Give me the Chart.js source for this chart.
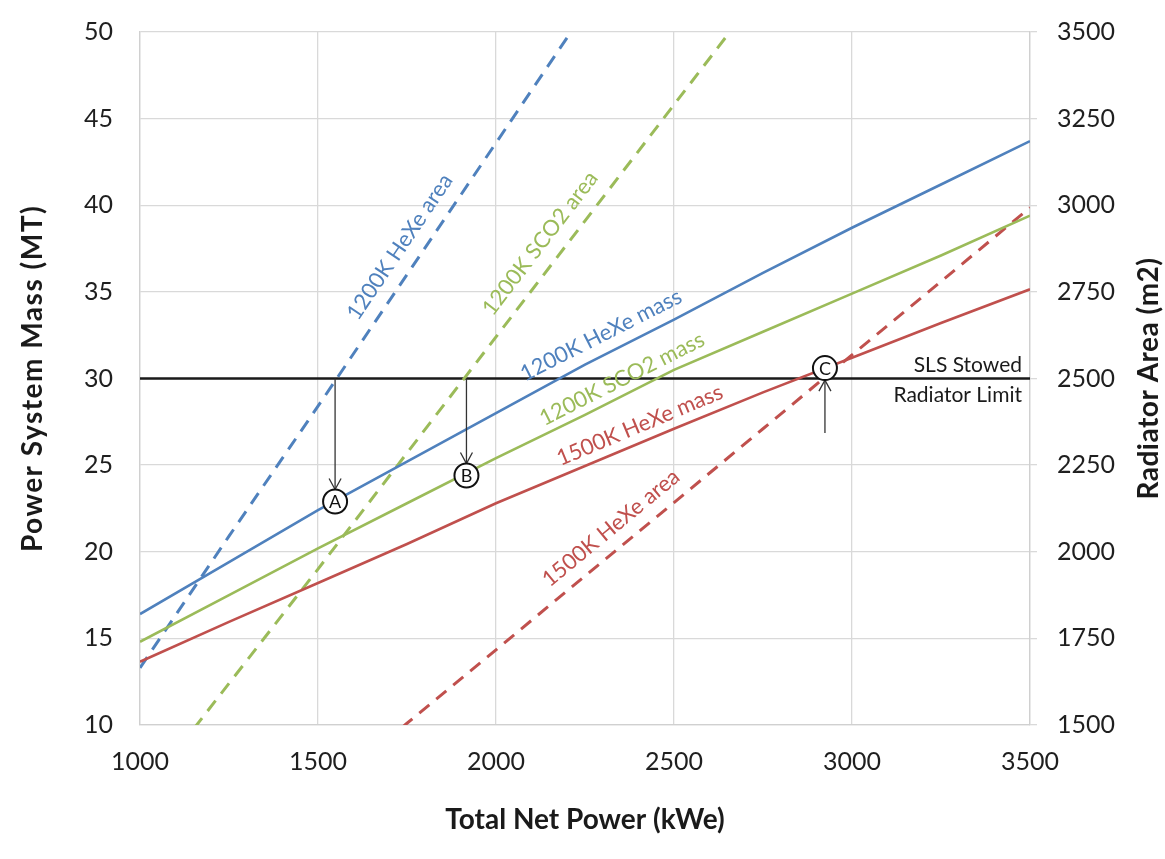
<!DOCTYPE html>
<html><head><meta charset="utf-8">
<script src="https://cdn.jsdelivr.net/npm/chart.js@4.4.0/dist/chart.umd.min.js"></script>
<style>html,body{margin:0;padding:0;background:#fff}#wrap{width:1165px;height:859px}</style>
</head><body><div id="wrap"><canvas id="c" width="1165" height="859"></canvas></div>
<script>
// ---- data ----
const powerKWe      = [1000, 1250, 1500, 1750, 2000, 2250, 2500, 2750, 3000, 3250, 3500];
const heXe1200Mass  = [16.4, 19.4, 22.4, 25.2, 28.0, 30.8, 33.4, 36.1, 38.7, 41.2, 43.7];
const sco21200Mass  = [14.8, 17.5, 20.2, 22.8, 25.4, 27.9, 30.5, 32.7, 34.9, 37.1, 39.4];
const heXe1500Mass  = [13.65, 15.95, 18.2, 20.45, 22.8, 24.95, 27.1, 29.2, 31.2, 33.2, 35.15];
const heXe1200Area  = [1665, 2045, 2420, 2800, 3180, 3560, null, null, null, null, null];
const sco21200Area  = [1290, 1620, 1950, 2285, 2620, 2955, 3290, 3625, null, null, null];
const heXe1500Area  = [null, null, 1290, 1505, 1717, 1930, 2142, 2355, 2568, 2780, 2993];
const limitPower    = [1000, 3500];
const limitMass     = [30, 30];
const massTicks     = [10, 15, 20, 25, 30, 35, 40, 45, 50];
const areaTicks     = [1500, 1750, 2000, 2250, 2500, 2750, 3000, 3250, 3500];
const powerTicks    = [1000, 1500, 2000, 2500, 3000, 3500];
const markerNames   = ['A', 'B', 'C'];
const markerPower   = [1548, 1917, 2924];
const markerMass    = [22.9, 24.4, 30.6];
const arrowFromMass = [30, 30, 26.85];

const BLUE = '#4F81BD', GREEN = '#9BBB59', RED = '#C0504D';
const FONT = 'Lato, "Open Sans", sans-serif';

function pts(xs, ys) { return xs.map((x, i) => ({x: x, y: ys[i]})); }

const datasets = [
  {label:'1200K HeXe mass', data: pts(powerKWe, heXe1200Mass), yAxisID:'y', borderColor: BLUE, borderWidth: 2.6},
  {label:'1200K SCO2 mass', data: pts(powerKWe, sco21200Mass), yAxisID:'y', borderColor: GREEN, borderWidth: 2.6},
  {label:'1500K HeXe mass', data: pts(powerKWe, heXe1500Mass), yAxisID:'y', borderColor: RED, borderWidth: 2.6},
  {label:'1200K HeXe area', data: pts(powerKWe, heXe1200Area), yAxisID:'y2', borderColor: BLUE, borderWidth: 3, borderDash:[13,9]},
  {label:'1200K SCO2 area', data: pts(powerKWe, sco21200Area), yAxisID:'y2', borderColor: GREEN, borderWidth: 3, borderDash:[13,9]},
  {label:'1500K HeXe area', data: pts(powerKWe, heXe1500Area), yAxisID:'y2', borderColor: RED, borderWidth: 3, borderDash:[13,9]},
  {label:'SLS limit', data: pts(limitPower, limitMass), yAxisID:'y', borderColor: '#1a1a1a', borderWidth: 2.6}
];

// text labels placed along lines: [text, dataset index, kWe, MT, color]
const lineLabels = [
  ['1200K HeXe area', 3, 1730, 37.6, BLUE],
  ['1200K SCO2 area', 4, 2124, 37.8, GREEN],
  ['1200K HeXe mass', 0, 2295, 32.5, BLUE],
  ['1200K SCO2 mass', 1, 2354, 29.97, GREEN],
  ['1500K HeXe mass', 2, 2404, 27.3, RED],
  ['1500K HeXe area', 5, 2323, 21.37, RED]
];

function segAngle(chart, dsIndex, xv) {
  const meta = chart.getDatasetMeta(dsIndex);
  const d = chart.data.datasets[dsIndex].data;
  for (let i = 0; i < d.length - 1; i++) {
    if (d[i].y == null || d[i+1].y == null) continue;
    if (xv >= d[i].x && xv <= d[i+1].x) {
      const p0 = meta.data[i], p1 = meta.data[i+1];
      return Math.atan2(p1.y - p0.y, p1.x - p0.x);
    }
  }
  return 0;
}

function arrowHead(ctx, x, y, dir) {
  ctx.beginPath();
  ctx.moveTo(x - 6, y - dir * 11);
  ctx.lineTo(x, y);
  ctx.lineTo(x + 6, y - dir * 11);
  ctx.stroke();
}

const overlay = {
  id: 'overlay',
  afterDatasetsDraw(chart) {
    const ctx = chart.ctx, xs = chart.scales.x, ys = chart.scales.y;
    ctx.save();
    ctx.font = '22px ' + FONT;
    ctx.textAlign = 'center';
    ctx.textBaseline = 'middle';
    lineLabels.forEach(l => {
      const ang = segAngle(chart, l[1], l[2]);
      ctx.save();
      ctx.translate(xs.getPixelForValue(l[2]), ys.getPixelForValue(l[3]));
      ctx.rotate(ang);
      ctx.fillStyle = l[4];
      ctx.fillText(l[0], 0, 0);
      ctx.restore();
    });
    ctx.fillStyle = '#1a1a1a';
    ctx.font = '21px ' + FONT;
    ctx.textAlign = 'right';
    const yl = ys.getPixelForValue(limitMass[0]);
    ctx.fillText('SLS Stowed', xs.right - 8, yl - 13);
    ctx.fillText('Radiator Limit', xs.right - 8, yl + 17);
    const R = 12;
    markerNames.forEach((n, i) => {
      const px = xs.getPixelForValue(markerPower[i]);
      const cy = ys.getPixelForValue(markerMass[i]);
      const fy = ys.getPixelForValue(arrowFromMass[i]);
      const down = fy < cy;
      const ty = down ? cy - R : cy + R;
      ctx.strokeStyle = '#333';
      ctx.lineWidth = 1.3;
      ctx.beginPath(); ctx.moveTo(px, fy); ctx.lineTo(px, ty); ctx.stroke();
      arrowHead(ctx, px, ty, down ? 1 : -1);
      ctx.beginPath(); ctx.arc(px, cy, R, 0, Math.PI * 2);
      ctx.fillStyle = '#fff'; ctx.fill();
      ctx.lineWidth = 2; ctx.strokeStyle = '#111'; ctx.stroke();
      ctx.fillStyle = '#111'; ctx.font = '18px ' + FONT; ctx.textAlign = 'center';
      ctx.fillText(n, px, cy + 1);
    });
    ctx.restore();
  },
  afterDraw(chart) {
    const ctx = chart.ctx, a = chart.chartArea;
    ctx.save();
    ctx.fillStyle = '#1a1a1a';
    ctx.textAlign = 'center'; ctx.textBaseline = 'middle';
    const cy = (a.top + a.bottom) / 2;
    ctx.font = 'bold 28px ' + FONT;
    ctx.fillText('Total Net Power (kWe)', (a.left + a.right) / 2, 820);
    ctx.save(); ctx.translate(33, cy); ctx.rotate(-Math.PI / 2);
    ctx.letterSpacing = '1.5px';
    ctx.fillText('Power System Mass (MT)', 0, 0); ctx.restore();
    ctx.save(); ctx.translate(1149, cy); ctx.rotate(-Math.PI / 2);
    ctx.letterSpacing = '0.5px';
    ctx.fillText('Radiator Area (m2)', 0, 0); ctx.restore();
    ctx.restore();
  }
};

const tickFont = {family: FONT, size: 25};
const plain = v => String(v);
const fitV = w => s => { s.width = w; s.paddingTop = 0; s.paddingBottom = 0; };
new Chart(document.getElementById('c'), {
  type: 'line',
  data: {datasets: datasets},
  plugins: [overlay],
  options: {
    responsive: false, animation: false,
    layout: {padding: {top: 32, left: 0, right: 0, bottom: 0}},
    plugins: {legend: {display: false}, tooltip: {enabled: false}},
    elements: {point: {radius: 0}, line: {tension: 0, fill: false}},
    scales: {
      x: {
        type: 'linear', min: 1000, max: 3500,
        afterBuildTicks: s => { s.ticks = powerTicks.map(v => ({value: v})); },
        afterFit: s => { s.height = 134; s.paddingLeft = 0; s.paddingRight = 0; },
        grid: {color: '#d9d9d9', lineWidth: 1.3, drawTicks: false},
        border: {color: '#d0d0d0', width: 1.3},
        ticks: {font: tickFont, color: '#1f1f1f', padding: 22, maxRotation: 0, callback: plain}
      },
      y: {
        position: 'left', min: 10, max: 50,
        afterBuildTicks: s => { s.ticks = massTicks.map(v => ({value: v})); },
        afterFit: fitV(140),
        grid: {color: '#d9d9d9', lineWidth: 1.3, drawTicks: false},
        border: {color: '#d0d0d0', width: 1.3},
        ticks: {font: tickFont, color: '#1f1f1f', padding: 27, callback: plain}
      },
      y2: {
        position: 'right', min: 1500, max: 3500,
        afterBuildTicks: s => { s.ticks = areaTicks.map(v => ({value: v})); },
        afterFit: fitV(135),
        grid: {drawOnChartArea: false, color: '#d9d9d9', lineWidth: 1.3, drawTicks: true, tickLength: 7},
        border: {color: '#d0d0d0', width: 1.3},
        ticks: {font: tickFont, color: '#1f1f1f', padding: 20, callback: plain}
      }
    }
  }
});
</script>
</body></html>
